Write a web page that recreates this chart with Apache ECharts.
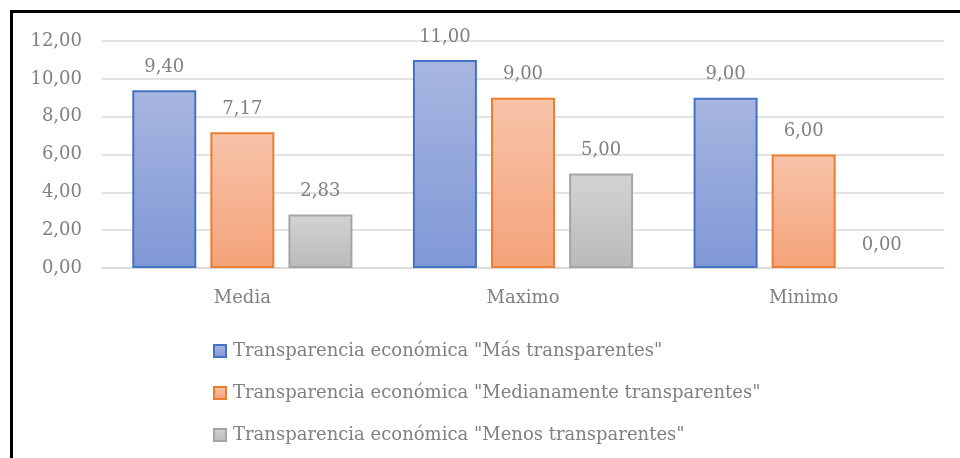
<!DOCTYPE html>
<html><head><meta charset="utf-8">
<script src="https://cdn.jsdelivr.net/npm/echarts@6/dist/echarts.min.js"></script>
<style>html,body{margin:0;padding:0;background:#fff}#c{width:960px;height:458px}</style>
</head><body><div id="c"></div>
<script>
const categories = ['Media', 'Maximo', 'Minimo'];
const seriesNames = [
  'Transparencia económica "Más transparentes"',
  'Transparencia económica "Medianamente transparentes"',
  'Transparencia económica "Menos transparentes"'
];
const masValues = [9.40, 11.00, 9.00];
const medValues = [7.17, 9.00, 6.00];
const menosValues = [2.83, 5.00, 0.00];

const font = '"DejaVu Serif", serif';
const txt = '#808080';
const styles = [
  {top: '#a8b6e0', bottom: '#8098d7', border: '#4472c4'},
  {top: '#f8c3aa', bottom: '#f4a379', border: '#ed7d31'},
  {top: '#d3d3d3', bottom: '#bababa', border: '#a5a5a5'}
];
const fmt = v => Number(v).toFixed(2).replace('.', ',');
const dataSets = [masValues, medValues, menosValues];

const chart = echarts.init(document.getElementById('c'), null, {renderer: 'canvas'});
chart.setOption({
  animation: false,
  textStyle: {fontFamily: font},
  graphic: [{type: 'rect', shape: {x: 11.5, y: 11.5, width: 1000, height: 1000},
    style: {fill: 'none', stroke: '#000', lineWidth: 3}, z: 100}],
  grid: {left: 102, right: 16, top: 41, bottom: 190, containLabel: false},
  legend: {
    orient: 'vertical', left: 208, top: 337, itemGap: 24,
    itemWidth: 12, itemHeight: 12, icon: 'rect',
    textStyle: {fontFamily: font, fontSize: 18, lineHeight: 18, color: txt, padding: [0, 0, 0, 2]},
    data: seriesNames
  },
  xAxis: {
    type: 'category', data: categories,
    axisLine: {lineStyle: {color: '#d9d9d9', width: 1.5}},
    axisTick: {show: false},
    axisLabel: {fontFamily: font, fontSize: 18, color: txt, margin: 21}
  },
  yAxis: {
    type: 'value', min: 0, max: 12, interval: 2,
    axisLine: {show: false}, axisTick: {show: false},
    splitLine: {lineStyle: {color: '#d9d9d9', width: 1.5}},
    axisLabel: {fontFamily: font, fontSize: 18, color: txt, margin: 20, formatter: fmt}
  },
  series: dataSets.map((d, i) => ({
    name: seriesNames[i], type: 'bar',
    data: d.map(v => v === 0 ? {value: v, itemStyle: {borderWidth: 0, color: 'rgba(0,0,0,0)'}} : v),
    barWidth: 64, barGap: '22%',
    itemStyle: {
      color: new echarts.graphic.LinearGradient(0, 0, 0, 1, [
        {offset: 0, color: styles[i].top}, {offset: 1, color: styles[i].bottom}]),
      borderColor: styles[i].border, borderWidth: 2
    },
    label: {show: true, position: 'top', distance: 14, formatter: p => fmt(p.value),
      fontFamily: font, fontSize: 18, color: txt}
  }))
});
</script></body></html>
